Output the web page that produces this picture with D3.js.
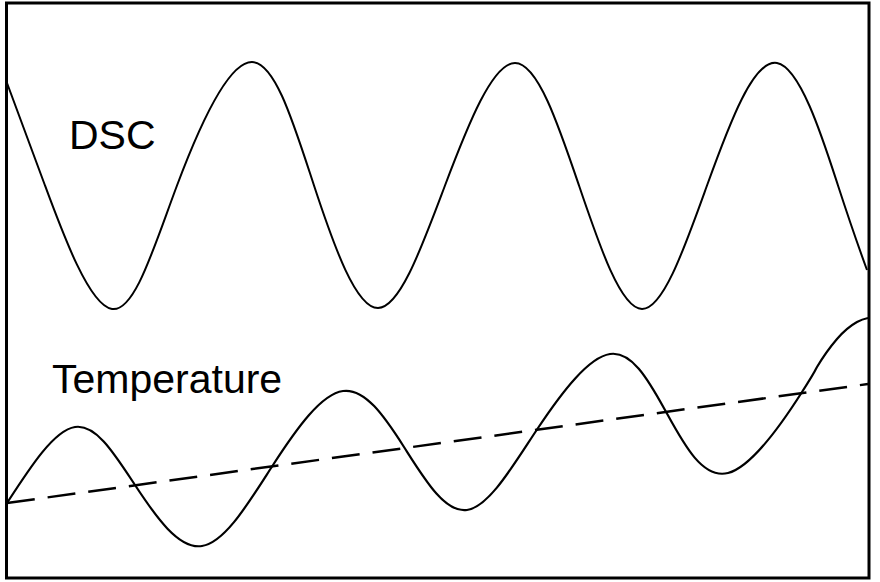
<!DOCTYPE html>
<html>
<head>
<meta charset="utf-8">
<script src="https://cdn.jsdelivr.net/npm/d3@7"></script>
<style>
  body { margin: 0; background: #fff; }
  svg { display: block; }
  .label { font-family: "Liberation Sans", Arial, sans-serif; font-size: 41px; fill: #000; }
</style>
</head>
<body>
<svg id="chart" width="880" height="582"></svg>
<script>
var dscTime = [0, 3.8, 10.5, 17.0, 24.5, 30.7, 37.1, 43.8, 50.8, 57.2, 63.5, 70.0, 77.0, 83.1, 86.0];
var dscValue = [99.0, 78.5, 53.8, 78.5, 103.2, 78.5, 54.0, 78.5, 103.0, 78.5, 53.8, 78.5, 103.0, 78.5, 61.6];

var tempTime = [0, 6.8, 12.8, 19.5, 26.6, 33.6, 39.7, 46.0, 53.1, 60.3, 65.8, 72.1, 79.5, 81.0, 83.0, 85.0, 86.1];
var tempValue = [15.0, 30.2, 18.6, 6.4, 22.6, 37.4, 26.2, 13.6, 30.0, 44.8, 33.6, 21.0, 37.2, 42.2, 47.8, 51.2, 52.0];

// underlying linear heating ramp (dashed)
var rampTime = [0, 86.1];
var rampValue = [15.0, 38.8];

var labels = ["DSC", "Temperature"];

const svg = d3.select("#chart");

const x = d3.scaleLinear().domain([0, 86.1]).range([7, 868]);
const y = d3.scaleLinear().domain([0, 115]).range([578, 3]);

function zipPts(ts, vs) {
  return ts.map((t, i) => [t, vs[i]]);
}

const line = d3.line()
  .x(d => x(d[0]))
  .y(d => y(d[1]))
  .curve(d3.curveNatural);

svg.append("path")
  .datum(zipPts(rampTime, rampValue))
  .attr("d", d3.line().x(d => x(d[0])).y(d => y(d[1])))
  .attr("fill", "none")
  .attr("stroke", "#000")
  .attr("stroke-width", 2.5)
  .attr("stroke-dasharray", "28,13");

svg.append("path")
  .datum(zipPts(dscTime, dscValue))
  .attr("d", line)
  .attr("fill", "none")
  .attr("stroke", "#000")
  .attr("stroke-width", 2);

svg.append("path")
  .datum(zipPts(tempTime, tempValue))
  .attr("d", line)
  .attr("fill", "none")
  .attr("stroke", "#000")
  .attr("stroke-width", 2.2);

// frame
svg.append("rect")
  .attr("x", 6.5)
  .attr("y", 3)
  .attr("width", 862.5)
  .attr("height", 575)
  .attr("fill", "none")
  .attr("stroke", "#000")
  .attr("stroke-width", 3);

svg.append("text")
  .attr("class", "label")
  .attr("x", 69)
  .attr("y", 149)
  .text(labels[0]);

svg.append("text")
  .attr("class", "label")
  .attr("x", 52)
  .attr("y", 393)
  .text(labels[1]);
</script>
</body>
</html>
